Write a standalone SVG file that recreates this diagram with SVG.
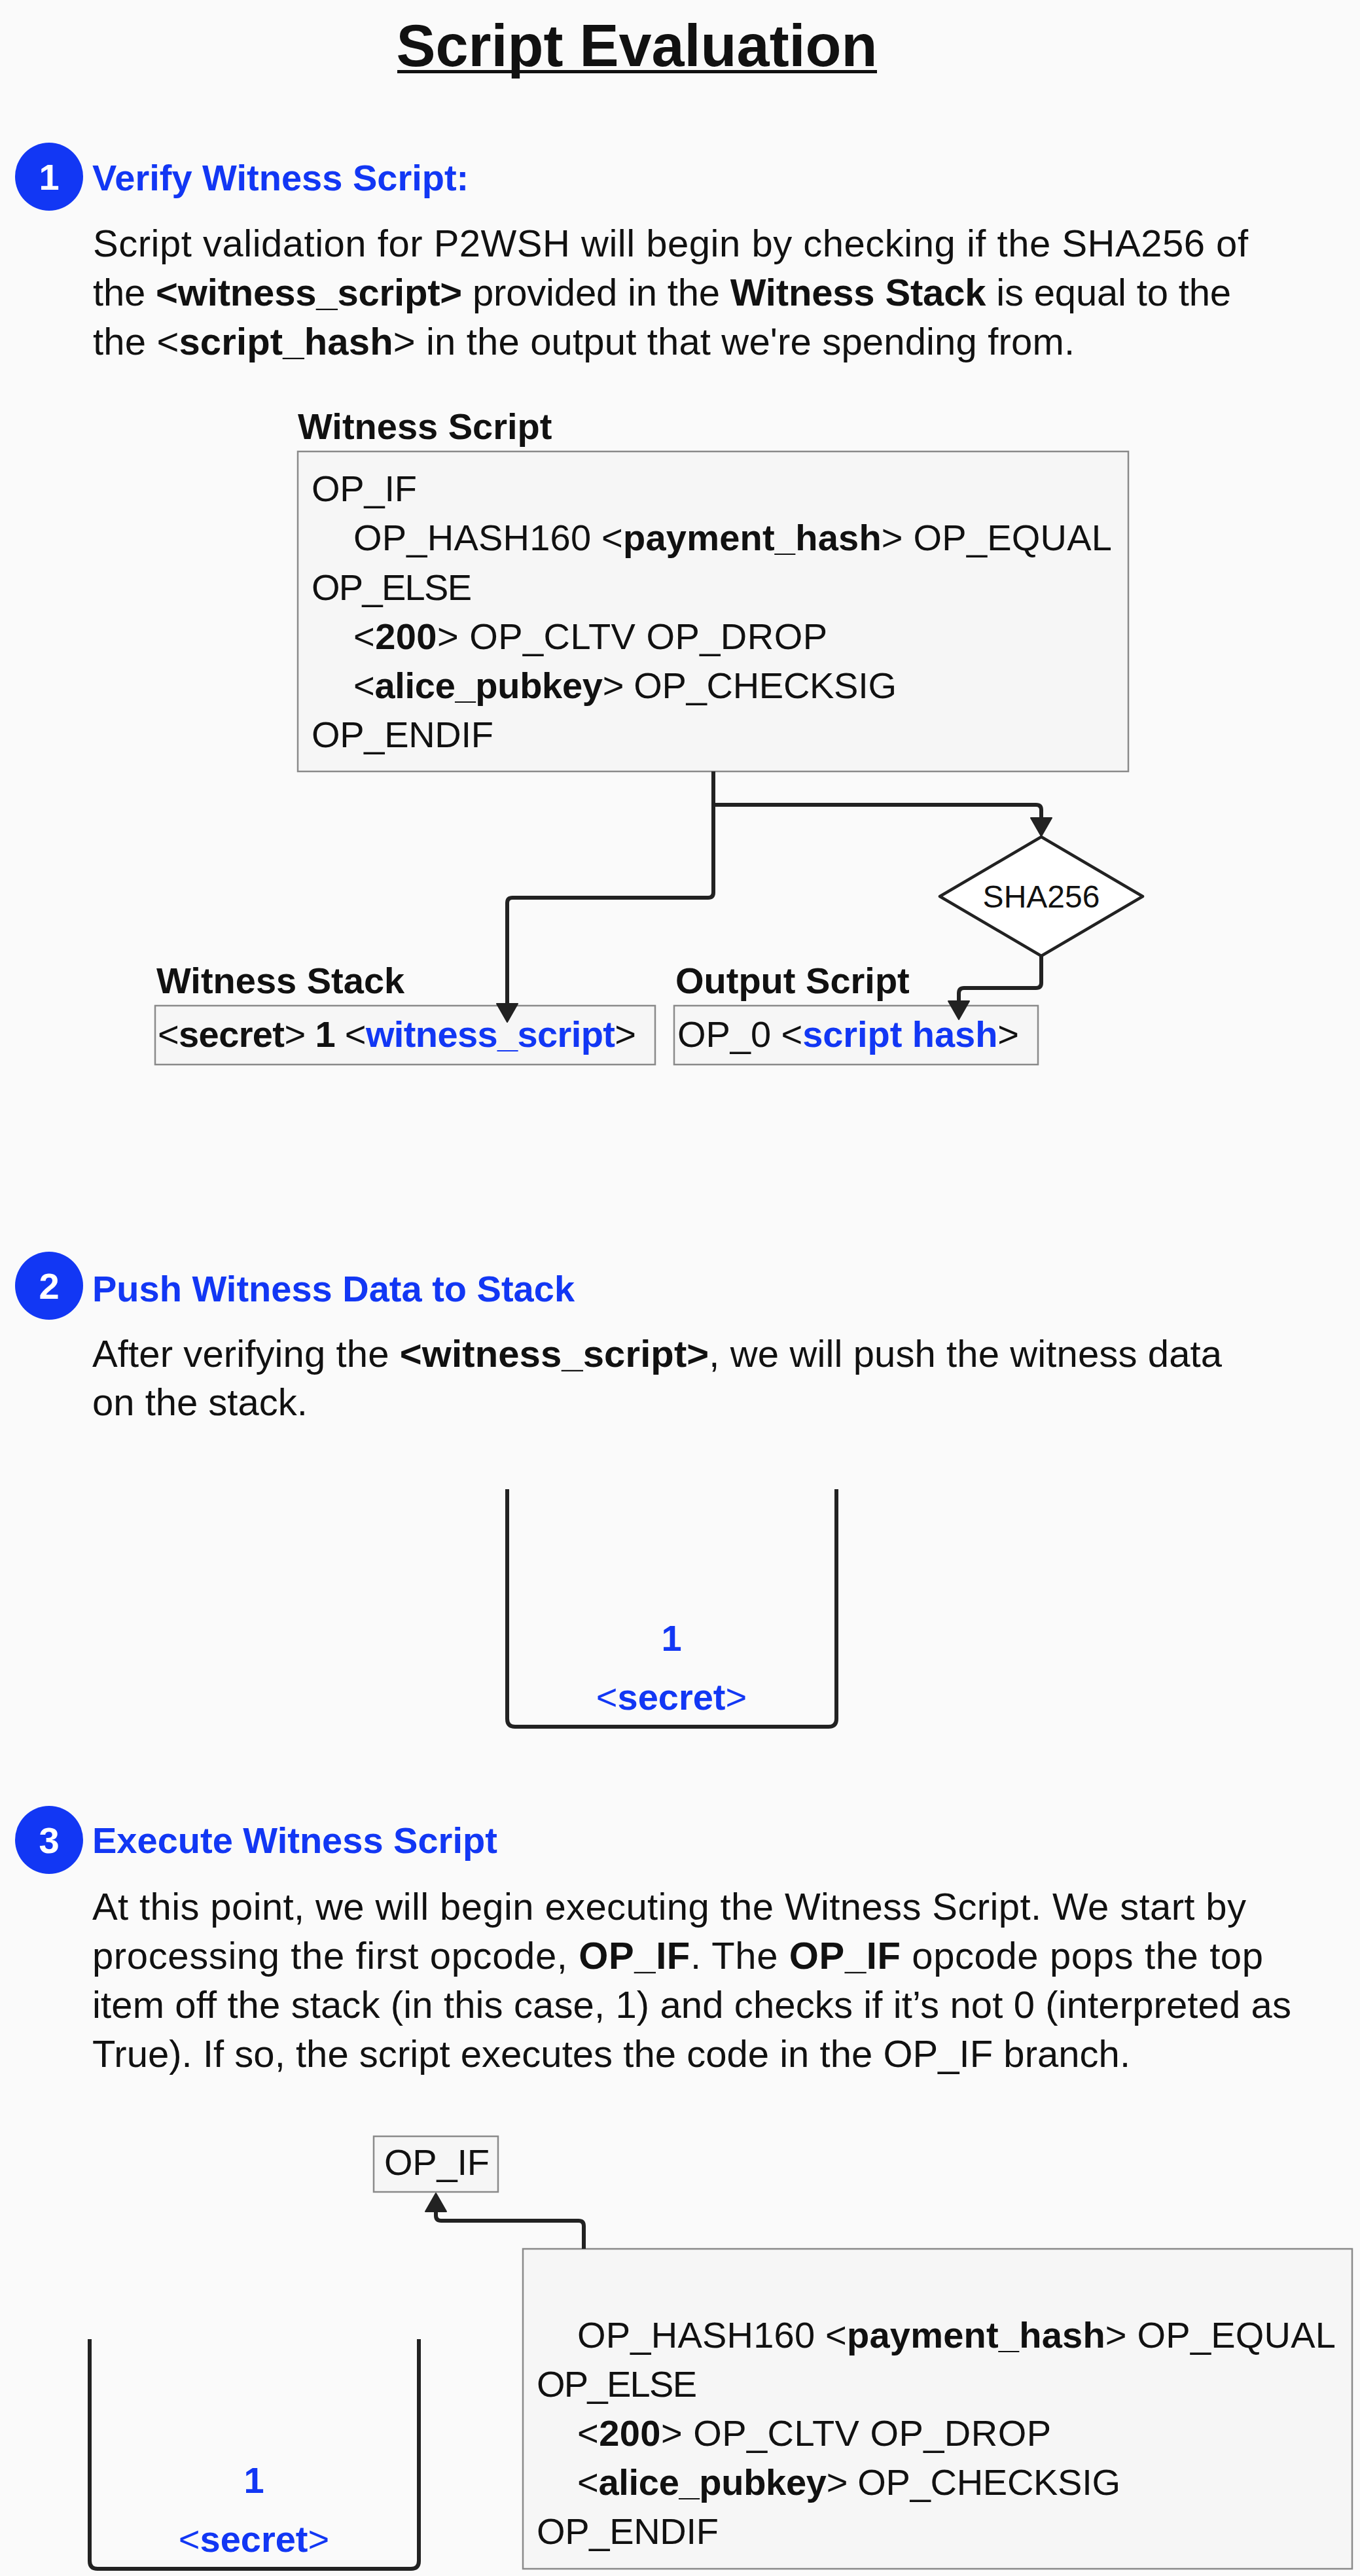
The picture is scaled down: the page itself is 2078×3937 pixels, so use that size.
<svg xmlns="http://www.w3.org/2000/svg" width="2078" height="3937" viewBox="0 0 2078 3937">
<style>
text{font-family:"Liberation Sans",Arial,sans-serif;fill:#111;}
.title{font-size:90px;font-weight:bold;}
.hd{font-size:56px;font-weight:bold;fill:#1237f4;}
.num{font-size:56px;font-weight:bold;fill:#fff;}
.body{font-size:58px;}
.lbl{font-size:56px;font-weight:bold;}
.code{font-size:56px;}
.b{font-weight:bold;}
.blue{fill:#1237f4;}
.box{fill:#f6f6f6;stroke:#8a8a8a;stroke-width:2.5;}
.circ{fill:#1237f4;}
.conn{fill:none;stroke:#222;stroke-width:6;stroke-linejoin:round;}
.stack{fill:none;stroke:#222;stroke-width:6;}
.stk{font-size:56px;fill:#1237f4;}
</style>
<defs>
<marker id="arr" markerUnits="userSpaceOnUse" markerWidth="44" markerHeight="44" viewBox="-2 -22 44 44" refX="0" refY="0" orient="auto">
<path d="M0,-16 L28,0 L0,16 z" fill="#222" stroke="#222" stroke-width="2" stroke-linejoin="round"/>
</marker>
</defs>
<rect x="0" y="0" width="2078" height="3937" fill="#fafafa"/>

<g id="title">
<text class="title" x="973" y="101" text-anchor="middle">Script Evaluation</text>
<rect x="607" y="107" width="733" height="5" fill="#111"/>
</g>

<g id="step1">
<circle class="circ" cx="75" cy="270" r="52"/>
<text class="num" x="75" y="290" text-anchor="middle">1</text>
<text class="hd" x="141" y="291">Verify Witness Script:</text>
<text class="body" x="142" y="392" textLength="1765" lengthAdjust="spacing">Script validation for P2WSH will begin by checking if the SHA256 of</text>
<text class="body" x="142" y="467" textLength="1739" lengthAdjust="spacing">the <tspan class="b">&lt;witness_script&gt;</tspan> provided in the <tspan class="b">Witness Stack</tspan> is equal to the</text>
<text class="body" x="142" y="542" textLength="1500" lengthAdjust="spacing">the &lt;<tspan class="b">script_hash</tspan>&gt; in the output that we're spending from.</text>
</g>

<g id="witness-script">
<text class="lbl" x="455" y="671">Witness Script</text>
<rect class="box" x="455" y="690" width="1269" height="489"/>
<text class="code" x="476" y="766" textLength="161" lengthAdjust="spacing">OP_IF</text>
<text class="code" x="540" y="841" textLength="1159" lengthAdjust="spacing">OP_HASH160 &lt;<tspan class="b">payment_hash</tspan>&gt; OP_EQUAL</text>
<text class="code" x="476" y="917" textLength="245" lengthAdjust="spacing">OP_ELSE</text>
<text class="code" x="540" y="992" textLength="724" lengthAdjust="spacing">&lt;<tspan class="b">200</tspan>&gt; OP_CLTV OP_DROP</text>
<text class="code" x="540" y="1067" textLength="830" lengthAdjust="spacing">&lt;<tspan class="b">alice_pubkey</tspan>&gt; OP_CHECKSIG</text>
<text class="code" x="476" y="1142" textLength="278" lengthAdjust="spacing">OP_ENDIF</text>
</g>

<g id="sha256">
<polygon points="1591,1279 1746,1370 1591,1461 1436,1370" fill="#fff" stroke="#222" stroke-width="4.5" stroke-linejoin="round"/>
<text x="1591" y="1387" text-anchor="middle" font-size="48">SHA256</text>
</g>

<g id="witness-stack">
<text class="lbl" x="239" y="1518">Witness Stack</text>
<rect class="box" x="237" y="1537" width="764" height="90"/>
<text class="code" x="241" y="1600" textLength="731" lengthAdjust="spacing">&lt;<tspan class="b">secret</tspan>&gt; <tspan class="b">1</tspan> &lt;<tspan class="b blue">witness_script</tspan>&gt;</text>
</g>

<g id="output-script">
<text class="lbl" x="1032" y="1518">Output Script</text>
<rect class="box" x="1030" y="1537" width="556" height="90"/>
<text class="code" x="1035" y="1600" textLength="522" lengthAdjust="spacing">OP_0 &lt;<tspan class="b blue">script hash</tspan>&gt;</text>
</g>

<g id="step2">
<circle class="circ" cx="75" cy="1965" r="52"/>
<text class="num" x="75" y="1985" text-anchor="middle">2</text>
<text class="hd" x="141" y="1989">Push Witness Data to Stack</text>
<text class="body" x="141" y="2089" textLength="1726" lengthAdjust="spacing">After verifying the <tspan class="b">&lt;witness_script&gt;</tspan>, we will push the witness data</text>
<text class="body" x="141" y="2163">on the stack.</text>
</g>

<g id="stack2">
<path class="stack" d="M775,2276 V2627 Q775,2639 787,2639 H1266 Q1278,2639 1278,2627 V2276"/>
<text class="stk b" x="1026" y="2523" text-anchor="middle">1</text>
<text class="stk" x="1026" y="2613" text-anchor="middle">&lt;<tspan class="b">secret</tspan>&gt;</text>
</g>

<g id="step3">
<circle class="circ" cx="75" cy="2812" r="52"/>
<text class="num" x="75" y="2832" text-anchor="middle">3</text>
<text class="hd" x="141" y="2832">Execute Witness Script</text>
<text class="body" x="141" y="2934" textLength="1763" lengthAdjust="spacing">At this point, we will begin executing the Witness Script. We start by</text>
<text class="body" x="141" y="3009" textLength="1789" lengthAdjust="spacing">processing the first opcode, <tspan class="b">OP_IF</tspan>. The <tspan class="b">OP_IF</tspan> opcode pops the top</text>
<text class="body" x="141" y="3084" textLength="1832" lengthAdjust="spacing">item off the stack (in this case, 1) and checks if it’s not 0 (interpreted as</text>
<text class="body" x="141" y="3159" textLength="1586" lengthAdjust="spacing">True). If so, the script executes the code in the OP_IF branch.</text>
</g>

<g id="op-if">
<rect class="box" x="571" y="3265" width="190" height="85"/>
<text class="code" x="587" y="3324" textLength="161" lengthAdjust="spacing">OP_IF</text>
</g>

<g id="remaining-script">
<rect class="box" x="799" y="3437" width="1267" height="489"/>
<text class="code" x="882" y="3588" textLength="1159" lengthAdjust="spacing">OP_HASH160 &lt;<tspan class="b">payment_hash</tspan>&gt; OP_EQUAL</text>
<text class="code" x="820" y="3663" textLength="245" lengthAdjust="spacing">OP_ELSE</text>
<text class="code" x="882" y="3738" textLength="724" lengthAdjust="spacing">&lt;<tspan class="b">200</tspan>&gt; OP_CLTV OP_DROP</text>
<text class="code" x="882" y="3813" textLength="830" lengthAdjust="spacing">&lt;<tspan class="b">alice_pubkey</tspan>&gt; OP_CHECKSIG</text>
<text class="code" x="820" y="3888" textLength="278" lengthAdjust="spacing">OP_ENDIF</text>
</g>

<g id="stack3">
<path class="stack" d="M137,3575 V3914 Q137,3926 149,3926 H628 Q640,3926 640,3914 V3575"/>
<text class="stk b" x="388" y="3810" text-anchor="middle">1</text>
<text class="stk" x="388" y="3900" text-anchor="middle">&lt;<tspan class="b">secret</tspan>&gt;</text>
</g>

<g id="connectors">
<path class="conn" d="M1090,1179 V1230 H1583 Q1591,1230 1591,1238 V1250" marker-end="url(#arr)"/>
<path class="conn" d="M1090,1179 V1364 Q1090,1372 1082,1372 H783 Q775,1372 775,1380 V1534" marker-end="url(#arr)"/>
<path class="conn" d="M1591,1461 V1502 Q1591,1510 1583,1510 H1473 Q1465,1510 1465,1518 V1530" marker-end="url(#arr)"/>
<path class="conn" d="M892,3437 V3402 Q892,3394 884,3394 H674 Q666,3394 666,3386 V3380" marker-end="url(#arr)"/>
</g>
</svg>
